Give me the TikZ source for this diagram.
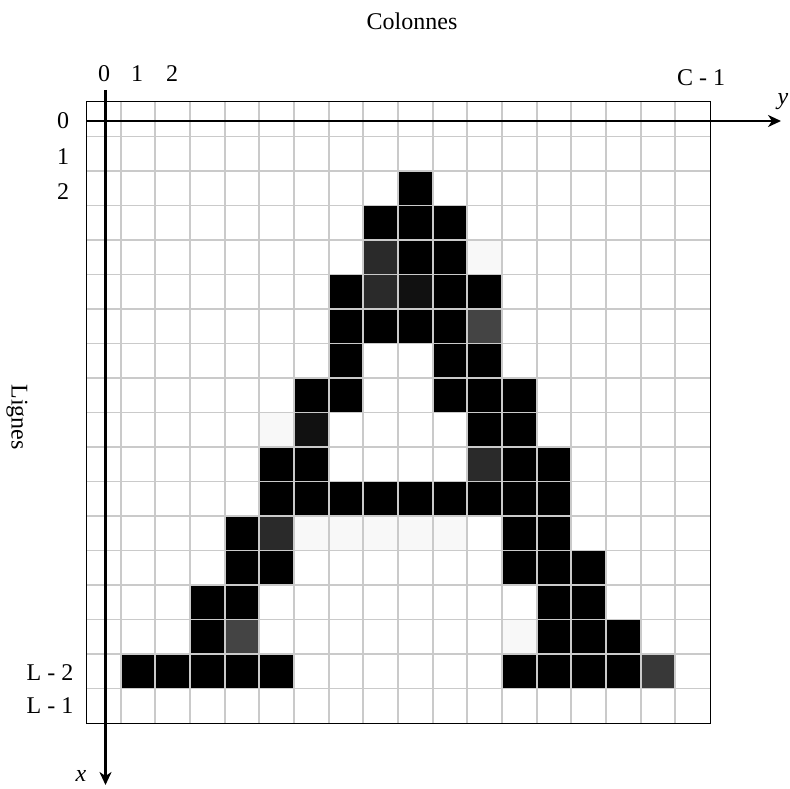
\documentclass[tikz,border=0pt]{standalone}
\usepackage{fontspec}
\setmainfont{Liberation Serif}
\usetikzlibrary{arrows.meta}
\definecolor{gridgray}{HTML}{CACACA}
\definecolor{dkA}{HTML}{2A2A2A}
\definecolor{dkB}{HTML}{111111}
\definecolor{dkC}{HTML}{444444}
\definecolor{dkD}{HTML}{383838}
\definecolor{ltA}{HTML}{F8F8F8}
\begin{document}
\begin{tikzpicture}[x=1pt,y=-1pt,
  lbl/.style={font=\fontsize{24}{24}\selectfont, inner sep=0pt},
  gridline/.style={draw=gridgray, line width=1.7pt},
  framebox/.style={draw=black, line width=1pt},
  axisline/.style={draw=black, line width=2.3pt, -{Stealth[length=13pt,width=12pt,inset=4pt]}},
]
\useasboundingbox (0,0) rectangle (790,789);
% cells
\foreach \r/\c/\col in {
 2/9/black,
 3/8/black,3/9/black,3/10/black,
 4/8/dkA,4/9/black,4/10/black,4/11/ltA,
 5/7/black,5/8/dkA,5/9/dkB,5/10/black,5/11/black,
 6/7/black,6/8/black,6/9/black,6/10/black,6/11/dkC,
 7/7/black,7/10/black,7/11/black,
 8/6/black,8/7/black,8/10/black,8/11/black,8/12/black,
 9/5/ltA,9/6/dkB,9/11/black,9/12/black,
 10/5/black,10/6/black,10/11/dkA,10/12/black,10/13/black,
 11/5/black,11/6/black,11/7/black,11/8/black,11/9/black,11/10/black,11/11/black,11/12/black,11/13/black,
 12/4/black,12/5/dkA,12/6/ltA,12/7/ltA,12/8/ltA,12/9/ltA,12/10/ltA,12/12/black,12/13/black,
 13/4/black,13/5/black,13/12/black,13/13/black,13/14/black,
 14/3/black,14/4/black,14/13/black,14/14/black,
 15/3/black,15/4/dkC,15/12/ltA,15/13/black,15/14/black,15/15/black,
 16/1/black,16/2/black,16/3/black,16/4/black,16/5/black,16/12/black,16/13/black,16/14/black,16/15/black,16/16/dkD}
 \fill[\col] ({86+34.667*\c},{102+34.5*\r}) rectangle ++(34.667,34.5);
% grid
\foreach \i in {1,...,17} {
  \draw[gridline] ({86+34.667*\i},102) -- ({86+34.667*\i},723);
  \draw[gridline] (86,{102+34.5*\i}) -- (710,{102+34.5*\i});
}
\draw[framebox] (86,102) rectangle (710,723);
% axes
\coordinate (xs) at (105.5,90);
\coordinate (xe) at (105.5,785);
\coordinate (ys) at (86,121);
\coordinate (ye) at (781,121);
\draw[axisline] (xs) -- (xe);
\draw[axisline] (ys) -- (ye);
% labels
\node[lbl] (col) at (412,21) {Colonnes};
\node[lbl, rotate=-90] (lig) at (17,417) {Lignes};
\node[lbl] (c0) at (104,74) {0};
\node[lbl] (c1) at (137,74) {1};
\node[lbl] (c2) at (172,74) {2};
\node[lbl] (cC) at (701,78) {C - 1};
\node[lbl] (r0) at (63,121) {0};
\node[lbl] (r1) at (63,157) {1};
\node[lbl] (r2) at (63,192) {2};
\node[lbl] (rL2) at (50,673) {L - 2};
\node[lbl] (rL1) at (50,706) {L - 1};
\node[lbl] (ax) at (81,776) {\textit{x}};
\node[lbl] (ay) at (783,102) {\textit{y}};
\end{tikzpicture}
\end{document}
